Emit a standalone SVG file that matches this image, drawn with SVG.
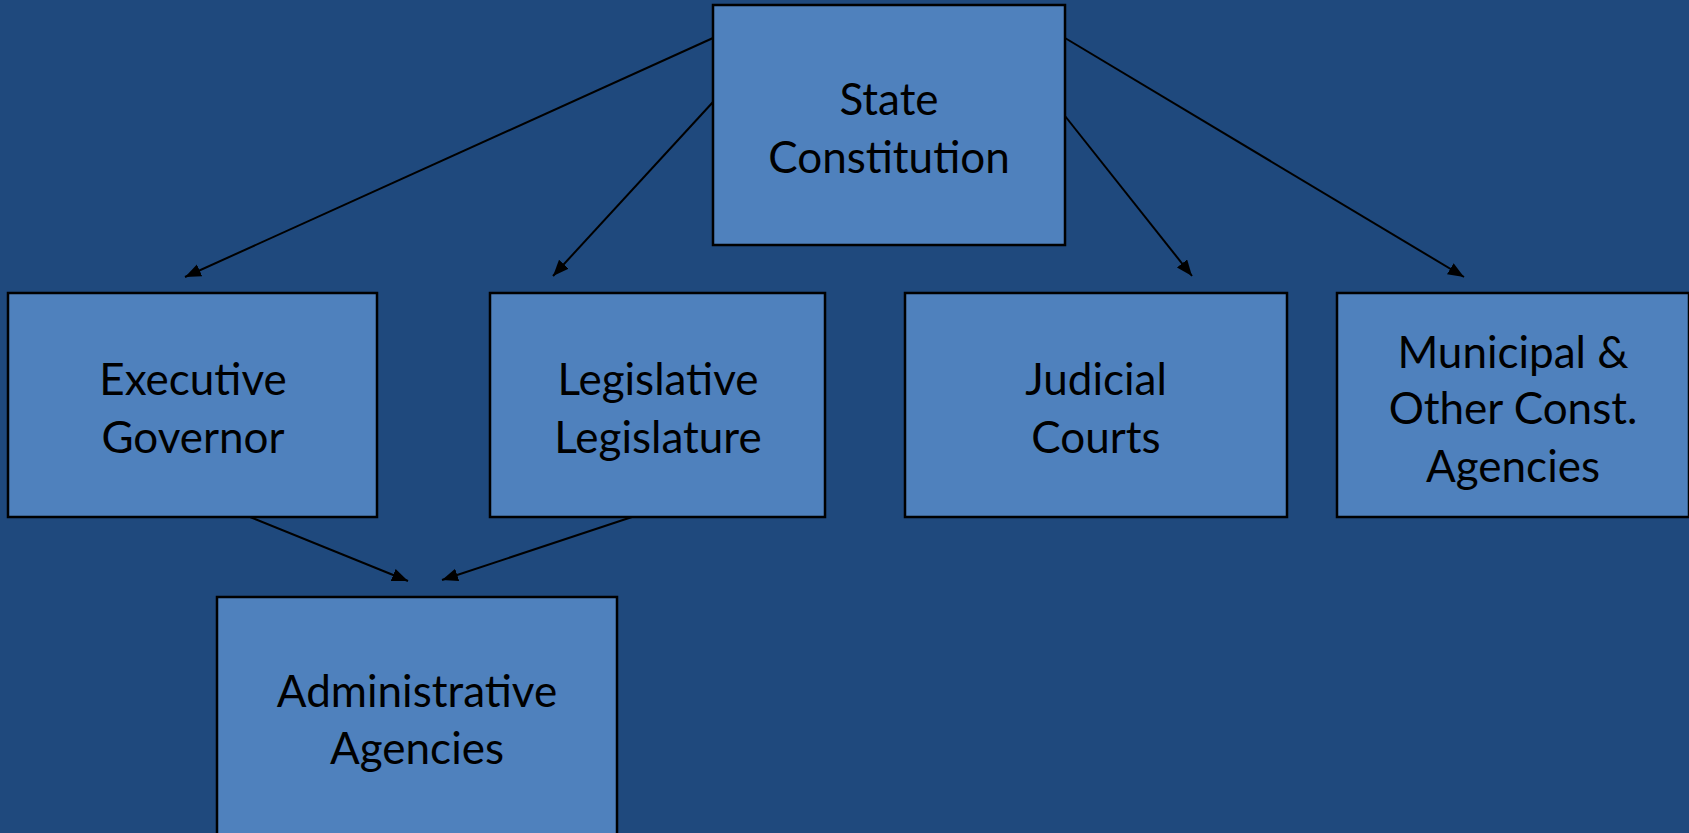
<svg xmlns="http://www.w3.org/2000/svg" width="1689" height="833" viewBox="0 0 1689 833">
  <style>
    .box { fill: #4F81BD; stroke: #000; stroke-width: 2.5; }
    .label { font-family: Lato, "Open Sans", "Liberation Sans", sans-serif; font-size: 44px; fill: #000; text-anchor: middle; }
    .link { stroke: #000; stroke-width: 2; fill: none; marker-end: url(#arrow); }
  </style>
  <defs>
    <marker id="arrow" markerUnits="userSpaceOnUse" markerWidth="18" markerHeight="14" refX="16" refY="6.5" orient="auto">
      <path d="M0,0 L16,6.5 L0,13 Z" fill="#000"/>
    </marker>
  </defs>

  <rect x="0" y="0" width="1689" height="833" fill="#1F497D"/>

  <!-- connectors -->
  <g id="connectors">
    <line class="link" x1="713" y1="38" x2="185" y2="277"/>
    <line class="link" x1="713" y1="102" x2="553" y2="276"/>
    <line class="link" x1="1065" y1="116" x2="1192" y2="276"/>
    <line class="link" x1="1065" y1="38" x2="1464" y2="277"/>
    <line class="link" x1="250" y1="517" x2="408" y2="581"/>
    <line class="link" x1="632" y1="517" x2="442" y2="580"/>
  </g>

  <!-- nodes -->
  <g id="state-constitution">
    <rect class="box" x="713" y="5" width="352" height="240"/>
    <text class="label" x="889" y="115">State</text>
    <text class="label" x="889" y="173">Constitution</text>
  </g>

  <g id="executive">
    <rect class="box" x="8" y="293" width="369" height="224"/>
    <text class="label" x="193" y="395">Executive</text>
    <text class="label" x="193" y="453">Governor</text>
  </g>

  <g id="legislative">
    <rect class="box" x="490" y="293" width="335" height="224"/>
    <text class="label" x="658" y="395">Legislative</text>
    <text class="label" x="658" y="453">Legislature</text>
  </g>

  <g id="judicial">
    <rect class="box" x="905" y="293" width="382" height="224"/>
    <text class="label" x="1096" y="395">Judicial</text>
    <text class="label" x="1096" y="453">Courts</text>
  </g>

  <g id="municipal">
    <rect class="box" x="1337" y="293" width="352" height="224"/>
    <text class="label" x="1513" y="368">Municipal &amp;</text>
    <text class="label" x="1513" y="424">Other Const.</text>
    <text class="label" x="1513" y="482">Agencies</text>
  </g>

  <g id="administrative">
    <rect class="box" x="217" y="597" width="400" height="250"/>
    <text class="label" x="417" y="707">Administrative</text>
    <text class="label" x="417" y="764">Agencies</text>
  </g>
</svg>
